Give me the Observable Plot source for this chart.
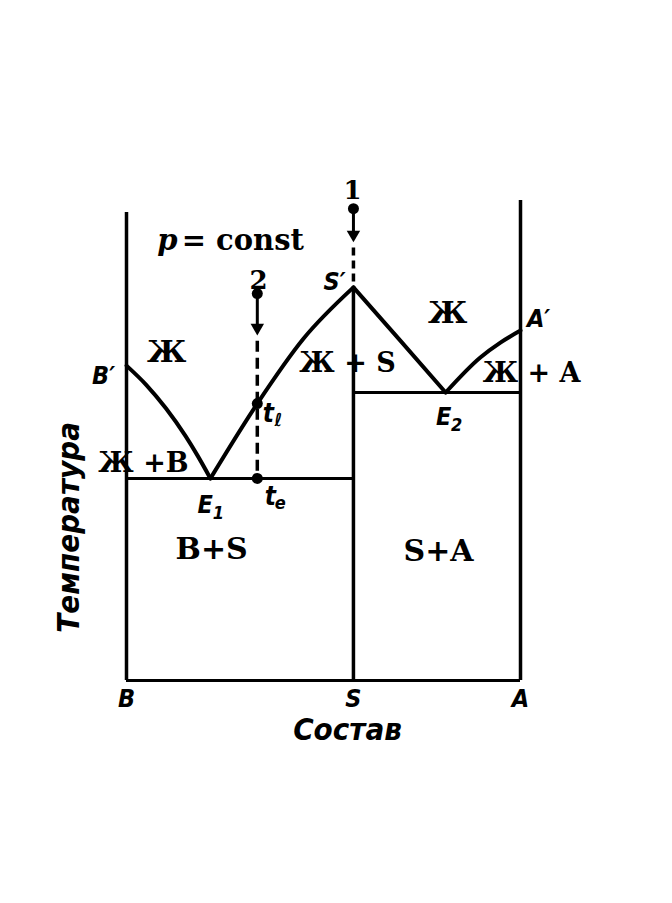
<!DOCTYPE html>
<html>
<head>
<meta charset="utf-8">
<script src="https://cdn.jsdelivr.net/npm/d3@7"></script>
<script src="https://cdn.jsdelivr.net/npm/@observablehq/plot@0.6"></script>
<style>
  html, body { margin: 0; padding: 0; background: #fff; }
</style>
</head>
<body>
<div id="chart"></div>
<script>
// Composition (0 = B, 1 = A) and temperature (relative units)
const compS = 0.576;          // compound S
const tE1 = 42.1;             // eutectic E1 temperature
const tE2 = 60;               // eutectic E2 temperature
const leftTop = 97.5;         // top of B axis
const rightTop = 100;         // top of A axis

// liquidus B' -> E1
const liqB_x = [0, 0.05, 0.1, 0.15, 0.18, 0.213];
const liqB_t = [65.6, 61.6, 56.7, 50.9, 46.9, 42.1];
// liquidus E1 -> S'
const liqS1_x = [0.213, 0.332, 0.449, 0.576];
const liqS1_t = [42.1, 57.7, 71.2, 81.9];
// liquidus S' -> E2
const liqS2_x = [0.576, 0.695, 0.81];
const liqS2_t = [81.9, 70.8, 60];
// liquidus E2 -> A'
const liqA_x = [0.81, 0.898, 0.949, 1];
const liqA_t = [60, 67.3, 70.4, 72.9];

// cooling paths 1 and 2
const path2_x = 0.332, path2_start = 80.6, path2_arrow = 72.3, path2_tl = 57.7;
const path1_x = 0.576, path1_start = 98.3, path1_arrow = 91.7;

// region labels
const regionLabels = [
  {x: 0.102, t: 68.3, s: "Ж"},
  {x: 0.815, t: 76.5, s: "Ж"},
  {x: 0.216, t: 27.3, s: "B+S"},
  {x: 0.792, t: 26.9, s: "S+A"},
];
const mixLabels = [
  {x: 0.043, t: 45.2, s: "Ж +B"},
  {x: 0.561, t: 66, s: "Ж + S"},
  {x: 1.028, t: 64, s: "Ж + A"},
];
const pointLabels = [
  {x: -0.058, t: 63.5, s: "B′"},
  {x: 0.528, t: 83.1, s: "S′"},
  {x: 1.046, t: 75.4, s: "A′"},
];
const eLabels = [
  {x: 0.2, t: 36.6, s: "E", sub: "1"},
  {x: 0.805, t: 54.8, s: "E", sub: "2"},
];
const tLabels = [
  {x: 0.36, t: 55.6, s: "t", sub: "ℓ"},
  {x: 0.365, t: 38.3, s: "t", sub: "e"},
];
const pathNumbers = [
  {x: 0.335, t: 83.3, s: "2"},
  {x: 0.574, t: 102, s: "1"},
];
const axisTickPos = [0, 0.576, 1];
const axisTickLabels = ["B", "S", "A"];
const xTitle = "Состав";
const yTitle = "Температура";

const zip = (xs, ts) => xs.map((x, i) => ({x, t: ts[i]}));
const serif = "DejaVu Serif, Liberation Serif, serif";
const ital = "DejaVu Sans Condensed, DejaVu Sans, Liberation Sans, sans-serif";
const italStyle = {fontFamily: ital, fontWeight: "bold", fontStyle: "italic"};

const chart = Plot.plot({
  width: 672,
  height: 903,
  marginLeft: 126,
  marginRight: 152,
  marginTop: 200,
  marginBottom: 223,
  x: {domain: [0, 1], axis: null},
  y: {domain: [0, 100], axis: null},
  style: {background: "#fff", color: "#000"},
  marks: [
    // frame verticals
    Plot.ruleX([0], {y1: 0, y2: leftTop, stroke: "#000", strokeWidth: 3.5}),
    Plot.ruleX([1], {y1: 0, y2: rightTop, stroke: "#000", strokeWidth: 3.5}),
    Plot.ruleX([compS], {y1: 0, y2: liqS1_t[liqS1_t.length - 1], stroke: "#000", strokeWidth: 3.5}),
    // bottom and eutectic horizontals
    Plot.ruleY([0], {x1: 0, x2: 1, stroke: "#000", strokeWidth: 3}),
    Plot.ruleY([tE1], {x1: 0, x2: compS, stroke: "#000", strokeWidth: 3}),
    Plot.ruleY([tE2], {x1: compS, x2: 1, stroke: "#000", strokeWidth: 3}),
    // liquidus curves
    Plot.line(zip(liqB_x, liqB_t), {x: "x", y: "t", stroke: "#000", strokeWidth: 4, curve: "monotone-x"}),
    Plot.line(zip(liqS1_x, liqS1_t), {x: "x", y: "t", stroke: "#000", strokeWidth: 4, curve: "monotone-x"}),
    Plot.line(zip(liqS2_x, liqS2_t), {x: "x", y: "t", stroke: "#000", strokeWidth: 4, curve: "monotone-x"}),
    Plot.line(zip(liqA_x, liqA_t), {x: "x", y: "t", stroke: "#000", strokeWidth: 4, curve: "monotone-x"}),
    // cooling path 2
    Plot.link([{}], {x1: path2_x, x2: path2_x, y1: path2_start, y2: path2_arrow + 1, stroke: "#000", strokeWidth: 3}),
    Plot.link([{}], {x1: path2_x, x2: path2_x, y1: path2_arrow - 1.5, y2: tE1, stroke: "#000", strokeWidth: 3.5, strokeDasharray: "11,6"}),
    Plot.dot([{x: path2_x, t: path2_arrow + 1.2}], {x: "x", y: "t", symbol: "triangle", r: 5, fill: "#000", rotate: 180}),
    Plot.dot([{x: path2_x, t: path2_start}, {x: path2_x, t: path2_tl}, {x: path2_x, t: tE1}], {x: "x", y: "t", r: 5.5, fill: "#000"}),
    // cooling path 1
    Plot.link([{}], {x1: path1_x, x2: path1_x, y1: path1_start, y2: path1_arrow + 1, stroke: "#000", strokeWidth: 3}),
    Plot.link([{}], {x1: path1_x, x2: path1_x, y1: path1_arrow - 1.5, y2: liqS1_t[liqS1_t.length - 1], stroke: "#000", strokeWidth: 3.5, strokeDasharray: "8,5"}),
    Plot.dot([{x: path1_x, t: path1_arrow + 1.2}], {x: "x", y: "t", symbol: "triangle", r: 5, fill: "#000", rotate: 180}),
    Plot.dot([{x: path1_x, t: path1_start}], {x: "x", y: "t", r: 5.5, fill: "#000"}),
    // p = const
    Plot.text([{}], {x: () => 0.078, y: () => 91.7, text: () => "p", textAnchor: "start", fontFamily: serif, fontWeight: "bold", fontStyle: "italic", fontSize: 29}),
    Plot.text([{}], {x: () => 0.14, y: () => 91.7, text: () => "= const", textAnchor: "start", fontFamily: serif, fontWeight: "bold", fontSize: 29}),
    // labels
    Plot.text(regionLabels, {x: "x", y: "t", text: "s", fontFamily: serif, fontWeight: "bold", fontSize: 30}),
    Plot.text(mixLabels, {x: "x", y: "t", text: "s", fontFamily: serif, fontWeight: "bold", fontSize: 27}),
    Plot.text(pathNumbers, {x: "x", y: "t", text: "s", fontFamily: serif, fontWeight: "bold", fontSize: 26}),
    Plot.text(pointLabels, {x: "x", y: "t", text: "s", ...italStyle, fontSize: 25}),
    Plot.text(eLabels, {x: "x", y: "t", text: "s", ...italStyle, fontSize: 25}),
    Plot.text(eLabels, {x: "x", y: "t", text: "sub", ...italStyle, fontSize: 18, dx: 13, dy: 8}),
    Plot.text(tLabels, {x: "x", y: "t", text: "s", ...italStyle, fontSize: 26}),
    Plot.text(tLabels, {x: "x", y: "t", text: "sub", ...italStyle, fontSize: 18, dx: 10, dy: 7}),
    Plot.text(axisTickPos.map((x, i) => ({x, s: axisTickLabels[i]})), {x: "x", y: () => -3.75, text: "s", ...italStyle, fontSize: 25}),
    Plot.text([{}], {x: () => 0.561, y: () => -10.4, text: () => xTitle, ...italStyle, fontSize: 31}),
    Plot.text([{}], {x: () => -0.147, y: () => 31.9, text: () => yTitle, rotate: -90, ...italStyle, fontSize: 31}),
  ]
});
document.getElementById("chart").appendChild(chart);
</script>
</body>
</html>
